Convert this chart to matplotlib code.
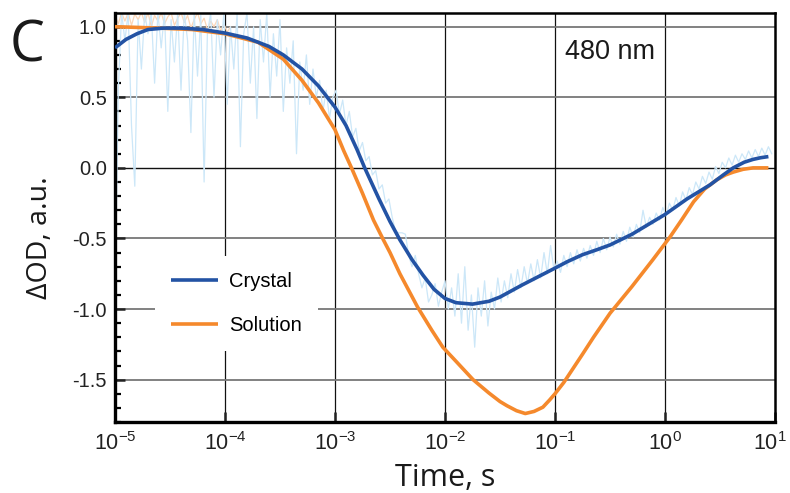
import numpy as np
import matplotlib
matplotlib.use("Agg")
import matplotlib.pyplot as plt
import matplotlib.transforms as mtransforms
from matplotlib.ticker import FixedLocator, MultipleLocator, FuncFormatter

plt.rcParams['font.family'] = ['Liberation Sans', 'DejaVu Sans']
plt.rcParams['mathtext.fontset'] = 'custom'
plt.rcParams['mathtext.rm'] = 'Liberation Sans'
plt.rcParams['mathtext.it'] = 'Liberation Sans:italic'
plt.rcParams['mathtext.bf'] = 'Liberation Sans:bold'

# ---------------- data ----------------
# Crystal fit (log10 time, dOD)
crystal_logt = [-5.0, -4.9, -4.8, -4.7, -4.56, -4.4, -4.2, -4.0, -3.8, -3.6, -3.47, -3.3, -3.15,
                -3.0, -2.9, -2.8, -2.73, -2.6, -2.5, -2.41, -2.3, -2.2, -2.1, -2.0, -1.9, -1.75,
                -1.6, -1.5, -1.3, -1.15, -1.0, -0.89, -0.75, -0.62, -0.5, -0.3, -0.15, 0.0, 0.2,
                0.41, 0.53, 0.62, 0.72, 0.8, 0.87, 0.94]
crystal_val = [0.85, 0.91, 0.95, 0.98, 0.99, 0.99, 0.98, 0.955, 0.92, 0.86, 0.80, 0.70, 0.58,
               0.43, 0.30, 0.13, 0.0, -0.22, -0.38, -0.51, -0.65, -0.76, -0.86, -0.925, -0.955, -0.965,
               -0.945, -0.915, -0.83, -0.77, -0.71, -0.665, -0.615, -0.58, -0.546, -0.47, -0.40, -0.33, -0.22,
               -0.12, -0.05, 0.0, 0.04, 0.06, 0.072, 0.08]

# Solution fit
solution_logt = [-5.0, -4.6, -4.3, -4.0, -3.7, -3.47, -3.3, -3.15, -3.0, -2.92, -2.85, -2.75,
                 -2.65, -2.56, -2.5, -2.41, -2.25, -2.12, -2.02, -1.9, -1.745, -1.6, -1.5,
                 -1.436, -1.35, -1.27, -1.19, -1.11, -1.05, -1.0, -0.92, -0.835, -0.75, -0.65,
                 -0.5, -0.3, -0.2, -0.11, 0.045, 0.15, 0.26, 0.36, 0.47, 0.55, 0.62, 0.71,
                 0.8, 0.94]
solution_val = [1.0, 0.99, 0.98, 0.95, 0.89, 0.77, 0.62, 0.46, 0.27, 0.12, 0.0, -0.18,
                -0.37, -0.51, -0.60, -0.75, -0.985, -1.15, -1.27, -1.37, -1.50, -1.595, -1.655,
                -1.685, -1.72, -1.74, -1.725, -1.695, -1.645, -1.60, -1.52, -1.42, -1.32, -1.20,
                -1.03, -0.84, -0.74, -0.65, -0.49, -0.37, -0.24, -0.15, -0.085, -0.05, -0.03, -0.01,
                0.0, 0.0]

# Raw crystal trace, sampled every 0.03 decade starting at 1e-5 s
raw_start_logt = -5.0
raw_step_logt = 0.03
raw_crystal = [
    -0.92, 0.55, 1.10, 0.90, 1.10, 0.30, -0.13, 1.05, 0.70, 1.10,
    0.95, 1.10, 0.60, 1.10, 0.85, 1.10, 0.40, 1.05, 0.75, 1.10,
    0.55, 1.10, 0.90, 0.25, 1.10, 0.65, 1.08, -0.10, 0.95, 1.10,
    0.50, 1.05, 0.80, 1.10, 0.45, 1.00, 0.70, 1.10, 0.15, 0.95,
    1.10, 0.60, 1.00, 0.35, 1.05, 0.75, 1.10, 0.50, 0.95, 0.65,
    1.05, 0.40, 0.85, 0.60, 0.90, 0.10, 0.75, 0.55, 0.80, 0.45,
    0.70, 0.50, 0.62, 0.40, 0.55, 0.35, 0.50,
    0.55, 0.38, 0.48, 0.30, 0.40, 0.22, 0.28, 0.12, 0.18, 0.05,
    0.08, -0.05, -0.02, -0.15, -0.12, -0.25, -0.22, -0.35, -0.45, -0.46,
    -0.46, -0.47, -0.62, -0.70, -0.62, -0.75, -0.85, -0.78, -0.95, -0.90,
    -0.82, -0.98, -0.88,
    -0.80, -1.00, -0.85, -1.05, -0.75, -1.10, -0.70, -1.15, -0.90, -1.27,
    -0.85, -1.05, -0.80, -1.12, -0.88, -1.00, -0.78, -0.95, -0.80, -0.92,
    -0.75, -0.88, -0.72, -0.85, -0.70, -0.82, -0.68, -0.80, -0.65, -0.78,
    -0.60, -0.75, -0.55, -0.72,
    -0.66, -0.74, -0.62, -0.70, -0.60, -0.68, -0.58, -0.66, -0.57, -0.64,
    -0.55, -0.62, -0.52, -0.60, -0.50, -0.58, -0.49, -0.56, -0.47, -0.54,
    -0.45, -0.52, -0.42, -0.49, -0.40, -0.46, -0.30, -0.42, -0.35, -0.40,
    -0.32, -0.37, -0.28, -0.34, -0.25, -0.30, -0.21, -0.27, -0.17, -0.23,
    -0.14, -0.19, -0.10, -0.15, -0.06, -0.11, -0.03, -0.08, 0.01, -0.04,
    0.04, 0.00, 0.07, 0.02, 0.09, 0.04, 0.10, 0.06, 0.12, 0.07,
    0.13, 0.08, 0.14, 0.09, 0.15, 0.10,
]

# Raw solution trace (only the early part is visible, near the top)
raw_solution = [
    1.08, 1.02, 1.10, 1.04, 1.10, 1.01, 1.09, 1.05, 1.10, 1.03,
    1.10, 1.00, 1.08, 1.04, 1.10, 1.02, 1.07, 1.10, 1.01, 1.06,
    1.10, 1.03, 1.08, 0.99, 1.05, 1.10, 1.02, 1.06, 0.98, 1.04,
    1.00, 1.05, 0.97, 1.02, 0.96, 1.00,
]

xticks_logt = [-5, -4, -3, -2, -1, 0, 1]
yticks = [-1.5, -1.0, -0.5, 0.0, 0.5, 1.0]

# ---------------- plot ----------------
fig = plt.figure(figsize=(7.9, 4.93), dpi=100)
ax = fig.add_axes([115/790, 1-422/493, 660/790, 409/493])

c_blue = '#2353a4'
c_orange = '#f5892c'
c_rawblue = '#cce7f8'
c_raworange = '#fcd6b6'

# grid
for lt in xticks_logt[1:-1]:
    ax.axvline(10.0**lt, color='#111111', lw=0.9, zorder=1)
for yv in [-1.5, -1.0, -0.5, 0.5, 1.0]:
    ax.axhline(yv, color='#777777', lw=1.3, zorder=1)
ax.axhline(0.0, color='#111111', lw=1.0, zorder=1)

raw_t = 10.0 ** (raw_start_logt + raw_step_logt * np.arange(len(raw_crystal)))
raw_ts = 10.0 ** (raw_start_logt + raw_step_logt * np.arange(len(raw_solution)))
ax.plot(raw_ts, raw_solution, color=c_raworange, lw=0.9, zorder=2)
ax.plot(raw_t, raw_crystal, color=c_rawblue, lw=0.9, zorder=2)

ax.plot(10.0 ** np.array(solution_logt), solution_val, color=c_orange, lw=2.6,
        label='Solution', zorder=4, solid_capstyle='butt', solid_joinstyle='round')
ax.plot(10.0 ** np.array(crystal_logt), crystal_val, color=c_blue, lw=2.6,
        label='Crystal', zorder=5, solid_capstyle='butt', solid_joinstyle='round')

ax.set_xscale('log')
ax.set_xlim(1e-5, 1e1)
ax.set_ylim(-1.8, 1.097)

ax.xaxis.set_major_locator(FixedLocator([10.0 ** v for v in xticks_logt]))
ax.xaxis.set_minor_locator(FixedLocator([]))
ax.xaxis.set_major_formatter(FuncFormatter(lambda v, p: r'$\mathregular{10^{%d}}$' % round(np.log10(v))))
ax.yaxis.set_major_locator(FixedLocator(yticks))
ax.yaxis.set_minor_locator(MultipleLocator(0.1))
ax.yaxis.set_major_formatter(FuncFormatter(lambda v, p: ('%.1f' % v).replace('\u2212', '-')))

ax.tick_params(axis='x', which='major', direction='in', length=7, width=1.8,
               labelsize=15.5, pad=7, colors='#222222')
ax.tick_params(axis='y', which='major', direction='in', length=7, width=1.8,
               labelsize=14.5, pad=6, colors='#222222')
ax.tick_params(axis='y', which='minor', direction='in', length=4, width=1.6)

for s in ['left', 'bottom']:
    ax.spines[s].set_linewidth(2.4)
for s in ['top', 'right']:
    ax.spines[s].set_linewidth(1.8)

# keep the last x tick label inside the canvas
last_lbl = ax.xaxis.get_major_ticks()[-1].label1
last_lbl.set_transform(last_lbl.get_transform() +
                       mtransforms.ScaledTranslation(-5/100, 0, fig.dpi_scale_trans))

handles, labels = ax.get_legend_handles_labels()
leg = ax.legend(handles[::-1], labels[::-1], loc='upper left',
                bbox_to_anchor=(0.06, 0.405), fontsize=14.5, frameon=True,
                handlelength=2.35, handletextpad=0.55, labelspacing=1.2,
                borderpad=0.8, borderaxespad=0.0)
leg.get_frame().set_facecolor('white')
leg.get_frame().set_edgecolor('none')
leg.get_frame().set_alpha(1.0)
leg.set_zorder(6)

ax.text(0.682, 0.905, '480 nm', transform=ax.transAxes, fontsize=19.5,
        ha='left', va='center', color='#1a1a1a', zorder=7)

ax.set_xlabel('Time, s', fontsize=22, family='Open Sans', color='#1a1a1a', labelpad=6)
ax.set_ylabel('\u0394OD, a.u.', fontsize=20.5, family='Open Sans', color='#1a1a1a')
ax.yaxis.set_label_coords(-0.092, 0.45)

fig.text(0.012, 0.905, 'C', fontsize=40, family='Open Sans', color='#1a1a1a',
         ha='left', va='center')

fig.savefig('out.png', dpi=100)
